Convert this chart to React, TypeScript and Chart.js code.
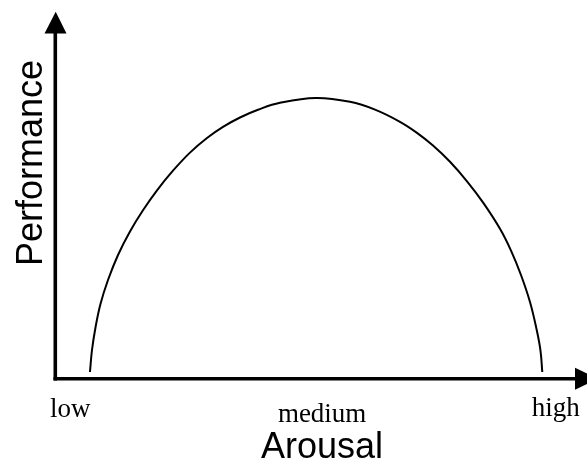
import React, { useEffect, useRef } from "react";
import { Chart, registerables } from "chart.js";

Chart.register(...registerables);

// Arousal (x) and Performance (y), in arbitrary 0-10 units
const arousal = [0.66, 0.698, 0.764, 0.858, 1.0, 1.189, 1.415, 1.66, 1.925, 2.226, 2.547, 2.868, 3.17, 3.491, 3.83, 4.245, 4.925, 5.566, 6.038, 6.509, 6.83, 7.132, 7.453, 7.774, 8.075, 8.396, 8.604, 8.792, 8.962, 9.085, 9.16, 9.194];
const performance = [0.164, 0.765, 1.38, 2.022, 2.678, 3.361, 4.003, 4.582, 5.128, 5.664, 6.158, 6.557, 6.861, 7.117, 7.328, 7.519, 7.65, 7.546, 7.333, 7.0, 6.699, 6.352, 5.907, 5.374, 4.798, 4.077, 3.481, 2.814, 2.077, 1.339, 0.751, 0.164];

const tickLabels = ["low", "medium", "high"];
const tickValues = [0.29, 5.04, 9.45];
const xTitle = "Arousal";
const yTitle = "Performance";

const axesPlugin = {
  id: "arrowAxes",
  afterDraw(chart: any) {
    const { ctx, chartArea, scales } = chart;
    const x0 = chartArea.left + 0.3;
    const y0 = chartArea.bottom + 0.7;
    ctx.save();
    ctx.strokeStyle = "#000";
    ctx.fillStyle = "#000";
    ctx.lineWidth = 3.6;
    ctx.lineCap = "butt";
    // x axis
    ctx.beginPath();
    ctx.moveTo(x0 - 1.8, y0);
    ctx.lineTo(578, y0);
    ctx.stroke();
    ctx.beginPath();
    ctx.moveTo(598, y0);
    ctx.lineTo(575, y0 - 11);
    ctx.lineTo(575, y0 + 11);
    ctx.closePath();
    ctx.fill();
    // y axis
    ctx.beginPath();
    ctx.moveTo(x0, y0 + 1.8);
    ctx.lineTo(x0, 30);
    ctx.stroke();
    ctx.beginPath();
    ctx.moveTo(x0 + 0.4, 11.7);
    ctx.lineTo(x0 - 10.8, 33.5);
    ctx.lineTo(x0 + 11.2, 33.5);
    ctx.closePath();
    ctx.fill();

    // tick labels
    ctx.font = "27px 'Liberation Serif', 'Times New Roman', serif";
    ctx.textAlign = "center";
    ctx.textBaseline = "alphabetic";
    const offs = [0, 4.5, -1];
    tickLabels.forEach((t, i) => {
      const px = scales.x.getPixelForValue(tickValues[i]);
      ctx.fillText(t, px, y0 + 38.5 + offs[i]);
    });

    // titles
    ctx.font = "36px 'Liberation Sans', Arial, sans-serif";
    ctx.fillText(xTitle, (chartArea.left + chartArea.right) / 2 + 2, 458);
    ctx.save();
    ctx.translate(42, 163);
    ctx.rotate(-Math.PI / 2);
    ctx.fillText(yTitle, 0, 0);
    ctx.restore();
    ctx.restore();
  },
};

export default function App() {
  const ref = useRef<HTMLCanvasElement>(null);
  useEffect(() => {
    document.body.style.margin = "0";
    const canvas = ref.current!;
    const chart = new Chart(canvas, {
      type: "line",
      data: {
        datasets: [
          {
            data: arousal.map((a, i) => ({ x: a, y: performance[i] })),
            borderColor: "#000",
            borderWidth: 2,
            pointRadius: 0,
            fill: false,
            tension: 0.4,
          },
        ],
      },
      options: {
        animation: false,
        responsive: false,
        devicePixelRatio: 1,
        layout: { padding: { left: 55, right: 2, top: 12, bottom: 83 } },
        plugins: { legend: { display: false }, tooltip: { enabled: false } },
        scales: {
          x: { type: "linear", min: 0, max: 10, display: false },
          y: { type: "linear", min: 0, max: 10, display: false },
        },
      },
      plugins: [axesPlugin],
    });
    return () => chart.destroy();
  }, []);
  return (
    <div style={{ width: 587, height: 461, background: "#fff" }}>
      <canvas ref={ref} width={587} height={461} style={{ display: "block" }} />
    </div>
  );
}
